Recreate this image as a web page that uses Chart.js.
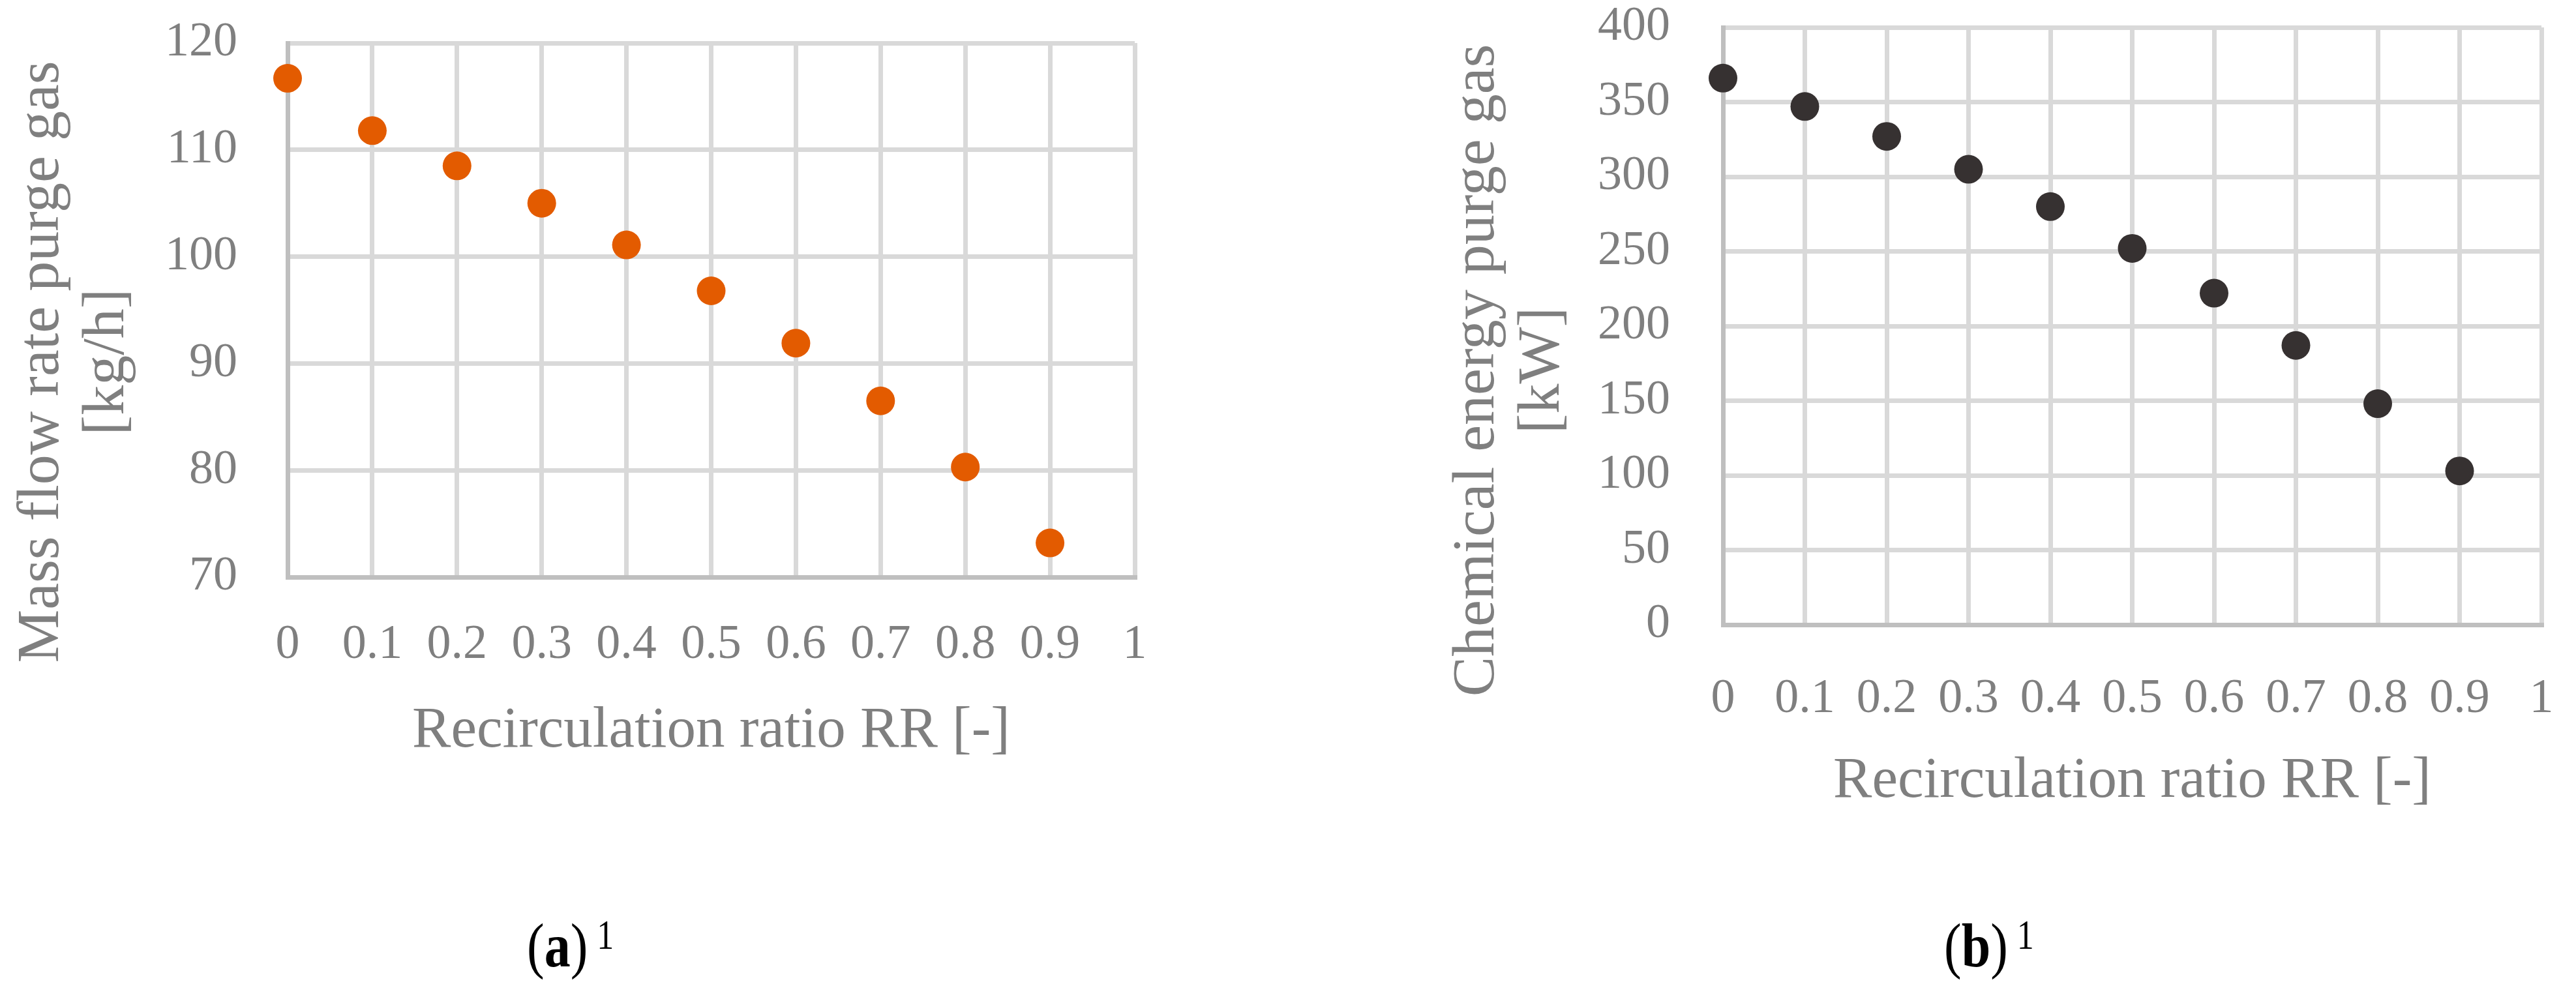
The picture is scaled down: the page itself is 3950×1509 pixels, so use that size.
<!DOCTYPE html>
<html>
<head>
<meta charset="utf-8">
<title>Purge gas vs recirculation ratio</title>
<script src="https://cdn.jsdelivr.net/npm/chart.js@4.4.1/dist/chart.umd.min.js"></script>
<style>
    html, body { margin: 0; padding: 0; background: #fff; }
    body { width: 3950px; height: 1509px; position: relative; overflow: hidden; }
    .box { position: absolute; top: 0; width: 1975px; }
    #boxA { left: 0; height: 1200px; }
    #boxB { left: 1975px; height: 1300px; }
    .caption {
        position: absolute;
        top: 1410px;
        font-family: "Liberation Serif", "Times New Roman", serif;
        font-size: 80px;
        line-height: 1;
        color: #000;
        white-space: nowrap;
        transform: scaleY(1.2);
        transform-origin: left center;
    }
    .caption sup {
        font-size: 52px;
        vertical-align: baseline;
        position: relative;
        top: -23px;
        margin-left: 14px;
    }
</style>
</head>
<body>
<div class="box" id="boxA"><canvas id="chartA"></canvas></div>
<div class="box" id="boxB"><canvas id="chartB"></canvas></div>
<div class="caption" style="left: 808px;">(<b>a</b>)<sup>1</sup></div>
<div class="caption" style="left: 2981px;">(<b>b</b>)<sup>1</sup></div>

<script>
// Recirculation ratio RR (x values of both panels)
const rrValues = [0, 0.1, 0.2, 0.3, 0.4, 0.5, 0.6, 0.7, 0.8, 0.9];

// (a) mass flow rate purge gas [kg/h]
const massFlow = [116.7, 111.8, 108.5, 105.0, 101.1, 96.8, 91.9, 86.5, 80.3, 73.2];

// (b) chemical energy purge gas [kW]
const chemEnergy = [366, 347, 327, 305, 280, 252, 222, 187, 148, 103];

// Tick values and labels
const xTickValues = [0, 0.1, 0.2, 0.3, 0.4, 0.5, 0.6, 0.7, 0.8, 0.9, 1];
const xTickLabels = ['0', '0.1', '0.2', '0.3', '0.4', '0.5', '0.6', '0.7', '0.8', '0.9', '1'];
const massTickValues = [70, 80, 90, 100, 110, 120];
const massTickLabels = ['70', '80', '90', '100', '110', '120'];
const energyTickValues = [0, 50, 100, 150, 200, 250, 300, 350, 400];
const energyTickLabels = ['0', '50', '100', '150', '200', '250', '300', '350', '400'];

// Axis titles
const xTitle = 'Recirculation ratio RR [-]';
const massTitle = ['Mass flow rate purge gas', '[kg/h]'];
const energyTitle = ['Chemical energy purge gas', '[kW]'];

const FONT = '"Liberation Serif", "Times New Roman", serif';
const TEXT_GREY = '#7f7f7f';
const GRID = '#d9d9d9';
const AXIS = '#bfbfbf';

// draws the two-line vertical y title (centred a bit lower than the plot area, as in the original)
const yTitlePlugin = {
    id: 'yTitle',
    afterDraw(chart, args, o) {
        const ctx = chart.ctx;
        ctx.save();
        ctx.fillStyle = TEXT_GREY;
        ctx.font = '92px ' + FONT;
        ctx.textAlign = 'center';
        ctx.textBaseline = 'alphabetic';
        o.lines.forEach((line, i) => {
            ctx.save();
            ctx.translate(o.x + i * o.gap, o.y);
            ctx.rotate(-Math.PI / 2);
            ctx.fillText(line, 0, 0);
            ctx.restore();
        });
        ctx.restore();
    }
};

function makeChart(canvasId, g) {
    const ctx = document.getElementById(canvasId).getContext('2d');
    return new Chart(ctx, {
        type: 'scatter',
        data: {
            datasets: [{
                data: rrValues.map((x, i) => ({ x: x, y: g.values[i] })),
                pointRadius: 22,
                pointBorderWidth: 0,
                pointBackgroundColor: g.color,
                borderColor: g.color,
                showLine: false,
                clip: false
            }]
        },
        options: {
            responsive: true,
            maintainAspectRatio: false,
            animation: false,
            events: [],
            layout: { padding: { top: g.top, right: g.right, left: 0, bottom: 0 } },
            plugins: {
                legend: { display: false },
                tooltip: { enabled: false },
                yTitle: g.yTitle
            },
            scales: {
                x: {
                    type: 'linear',
                    min: 0,
                    max: 1,
                    afterBuildTicks: s => { s.ticks = xTickValues.map(v => ({ value: v })); },
                    afterFit: s => {
                        s.height = g.xAxisHeight;
                        // big tick padding must not eat into the plot area
                        s.paddingLeft = 0;
                        s.paddingRight = 0;
                    },
                    ticks: {
                        callback: (v, i) => xTickLabels[i],
                        color: TEXT_GREY,
                        font: { family: FONT, size: 74, lineHeight: 1 },
                        padding: g.xPad,
                        maxRotation: 0,
                        autoSkip: false
                    },
                    grid: {
                        color: c => (c.tick && c.tick.value === 0) ? 'rgba(0,0,0,0)' : GRID,
                        lineWidth: 7,
                        drawTicks: false
                    },
                    border: { color: AXIS, width: 7 },
                    title: {
                        display: true,
                        text: xTitle,
                        color: TEXT_GREY,
                        font: { family: FONT, size: 89, lineHeight: 1.2 },
                        padding: { top: 0, bottom: g.titlePad }
                    }
                },
                y: {
                    type: 'linear',
                    min: g.yTicks[0],
                    max: g.yTicks[g.yTicks.length - 1],
                    afterBuildTicks: s => { s.ticks = g.yTicks.map(v => ({ value: v })); },
                    afterFit: s => {
                        s.width = g.yAxisWidth;
                        s.paddingTop = 0;
                        s.paddingBottom = 0;
                    },
                    ticks: {
                        callback: (v, i) => g.yLabels[i],
                        color: TEXT_GREY,
                        font: { family: FONT, size: 74, lineHeight: 1 },
                        padding: g.yPad
                    },
                    grid: {
                        color: c => (c.tick && c.tick.value === g.yTicks[0]) ? 'rgba(0,0,0,0)' : GRID,
                        lineWidth: 7,
                        drawTicks: false
                    },
                    border: { color: AXIS, width: 7 }
                }
            }
        },
        plugins: [yTitlePlugin]
    });
}

makeChart('chartA', {
    values: massFlow,
    color: '#e35b00',
    yTicks: massTickValues,
    yLabels: massTickLabels,
    top: 66,
    right: 235,
    yAxisWidth: 441,
    xAxisHeight: 315,
    xPad: 68,
    yPad: 77,
    titlePad: 25,
    yTitle: { lines: massTitle, x: 89, y: 555, gap: 100 }
});

makeChart('chartB', {
    values: chemEnergy,
    color: '#363131',
    yTicks: energyTickValues,
    yLabels: energyTickLabels,
    top: 42,
    right: 53,
    yAxisWidth: 667,
    xAxisHeight: 342,
    xPad: 78,
    yPad: 81,
    titlePad: 48,
    yTitle: { lines: energyTitle, x: 315, y: 568, gap: 100 }
});
</script>
</body>
</html>
